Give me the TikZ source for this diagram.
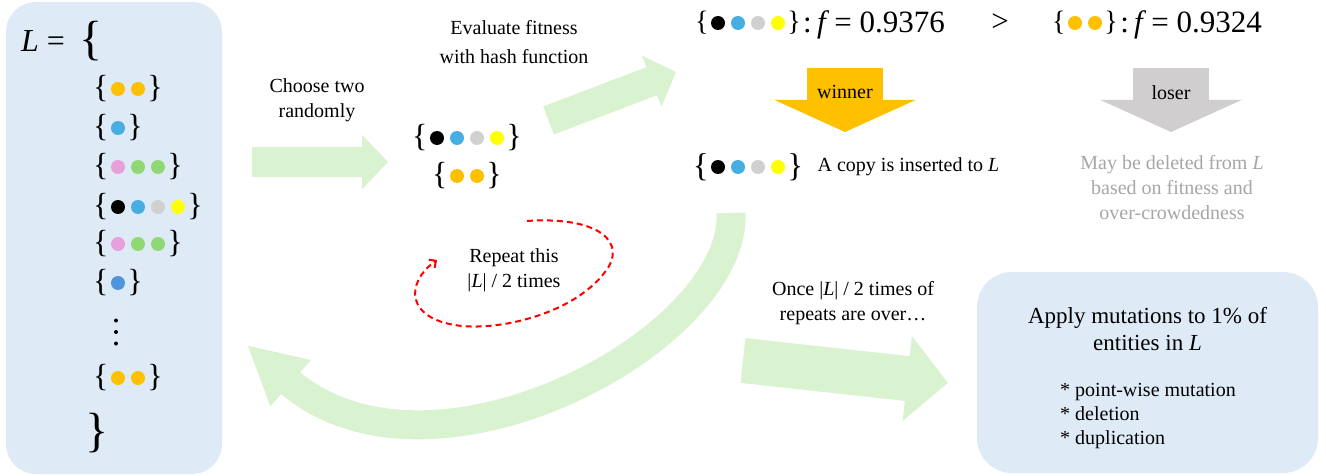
\documentclass[tikz,border=0pt]{standalone}
\usepackage{fontspec}
\setmainfont{Liberation Serif}
\usepackage{xcolor}
\usetikzlibrary{arrows.meta,positioning}
\definecolor{colorBox}{HTML}{DEEBF7}
\definecolor{colorArrow}{HTML}{D9F2D0}
\definecolor{colorWin}{HTML}{FFC000}
\definecolor{colorLose}{HTML}{D0CECE}
\definecolor{colorNote}{HTML}{A6A6A6}
\definecolor{colorO}{HTML}{FFC000}
\definecolor{colorB}{HTML}{46AEE0}
\definecolor{colorP}{HTML}{E6A0DA}
\definecolor{colorG}{HTML}{90D873}
\definecolor{colorK}{HTML}{000000}
\definecolor{colorW}{HTML}{D0D0D0}
\definecolor{colorY}{HTML}{FFFF00}
\definecolor{colorD}{HTML}{4F95DB}
% one entity: brace style, name, x of first dot, y, dot colours
\newcommand{\entity}[5][brace]{%
  \foreach \col [count=\i] in {#5} {
    \node[dot, fill=\col] (#2-\i) at ({#3+20*(\i-1)},#4) {};
    \xdef\lastdot{\i}
  }
  \node[#1, left=2pt of #2-1] (#2-l) {\{};
  \node[#1, right=2pt of #2-\lastdot] (#2-r) {\}};
}

\begin{document}
\begin{tikzpicture}[x=1pt,y=-1pt,every node/.append style={align=center},
  txt/.style={inner sep=0pt, font=\fontsize{20}{25}\selectfont},
  dot/.style={circle, minimum size=14pt, inner sep=0pt},
  brace/.style={inner sep=0pt, font=\fontsize{32}{32}\selectfont},
  topbrace/.style={brace, font=\fontsize{28}{28}\selectfont},
  copybrace/.style={brace, font=\fontsize{33}{33}\selectfont},
  bigbrace/.style={brace, font=\fontsize{48}{48}\selectfont},
  formula/.style={inner sep=0pt, font=\fontsize{31}{31}\selectfont},
  pool/.style={rectangle, rounded corners=30pt, fill=colorBox},
  fat/.style={colorArrow, line width=30pt, -{Triangle[length=26pt,width=53pt]}},
  verdict/.style={line width=76pt, -{Triangle[length=32pt,width=140pt]}},
  repeatloop/.style={red, line width=2pt, dash pattern=on 6pt off 4pt, -{Straight Barb[length=5pt,width=10pt]}},]
    \useasboundingbox (0,0) rectangle (1326,476);

    % the set L
    \node[pool, minimum width=216pt, minimum height=472pt] (pool) at (114,238) {};
    \node[formula, font=\fontsize{32}{32}\selectfont, anchor=base west] (Leq) at (21,52) {\textit{L} =};
    \node[bigbrace, right=14pt of Leq] (open) {\{};
    \entity{e1}{118}{89}{colorO,colorO}
    \entity{e2}{118}{128}{colorB}
    \entity{e3}{118}{167}{colorP,colorG,colorG}
    \entity{e4}{118}{207}{colorK,colorB,colorW,colorY}
    \entity{e5}{118}{244}{colorP,colorG,colorG}
    \entity{e6}{118}{283}{colorD}
    \foreach \i in {1,2,3}
        \node[circle, fill, inner sep=0pt, minimum size=4pt] (more-\i) at (116,{309+11.5*\i}) {};
    \entity{en}{118}{378}{colorO,colorO}
    \node[bigbrace] (close) at (97,433) {\}};

    % choose two
    \coordinate (choose-s) at (252,162);
    \coordinate (choose-e) at (388,162);
    \draw[fat] (choose-s) -- (choose-e);
    \node[txt] (choose) at (317,100.5) {Choose two\\randomly};
    \entity{pa}{437}{138}{colorK,colorB,colorW,colorY}
    \entity{pb}{457}{176}{colorO,colorO}

    % fitness
    \coordinate (eval-s) at (548.5,120.5);
    \coordinate (eval-e) at (676,72);
    \draw[fat] (eval-s) -- (eval-e);
    \node[txt, font=\fontsize{20}{29}\selectfont] (eval) at (514,42) {Evaluate fitness\\with hash function};
    \entity[topbrace]{fa}{718}{23}{colorK,colorB,colorW,colorY}
    \node[formula, right=2pt of fa-r, yshift=-2pt] (fa-f) {:\,\textit{f}\,= 0.9376};
    \node[formula] (gt) at (1000,23) {>};
    \entity[topbrace]{fb}{1075}{23}{colorO,colorO}
    \node[formula, right=2pt of fb-r, yshift=-2pt] (fb-f) {:\,\textit{f}\,= 0.9324};

    % winner and loser
    \coordinate (win-s) at (845,68);
    \coordinate (win-e) at (845,132);
    \draw[verdict, colorWin] (win-s) -- (win-e);
    \node[txt] (win) at (845,92) {winner};
    \coordinate (lose-s) at (1171,68);
    \coordinate (lose-e) at (1171,132);
    \draw[verdict, colorLose] (lose-s) -- (lose-e);
    \node[txt] (lose) at (1171,93) {loser};
    \entity[copybrace]{copy}{718}{167}{colorK,colorB,colorW,colorY}
    \node[txt, right=14pt of copy-r] (copy-t) {A copy is inserted to \textit{L}};
    \node[txt, text=colorNote] (note) at (1172,188) {May be deleted from \textit{L}\\based on fitness and\\over-crowdedness};

    % repeat
    \coordinate (loop-s) at (527,221);
    \coordinate (loop-e) at (437,260);
    \draw[repeatloop] (loop-s) .. controls (600,216) and (628,243) .. (605,272)
        .. controls (575,312) and (505,330) .. (462,326)
        .. controls (405,320) and (405,283) .. (loop-e);
    \node[txt] (repeat) at (514,270.5) {Repeat this\\|\textit{L}| / 2 times};
    \coordinate (back-s) at (731,213);
    \coordinate (back-e) at (247,345);
    \draw[colorArrow, line width=29pt, -{Triangle[length=58pt,width=57pt]}] (back-s) .. controls (737,340) and (430,505) .. (back-e);

    % mutations
    \coordinate (once-s) at (743,360.5);
    \coordinate (once-e) at (948,383);
    \draw[colorArrow, line width=45pt, -{Triangle[length=41pt,width=83pt]}] (once-s) -- (once-e);
    \node[txt] (once) at (853,303.5) {Once |\textit{L}| / 2 times of\\repeats are over…};
    \node[pool, rounded corners=35pt, minimum width=341pt, minimum height=201pt] (mut) at (1147.5,372.5) {};
    \node[txt, font=\fontsize{23}{27}\selectfont] (mut-t) at (1147.5,329) {Apply mutations to 1\% of\\entities in \textit{L}};
    \node[txt, align=left, anchor=west, font=\fontsize{20}{24}\selectfont] (mut-l) at (1060,416) {* point-wise mutation\\* deletion\\* duplication};
\end{tikzpicture}
\end{document}
